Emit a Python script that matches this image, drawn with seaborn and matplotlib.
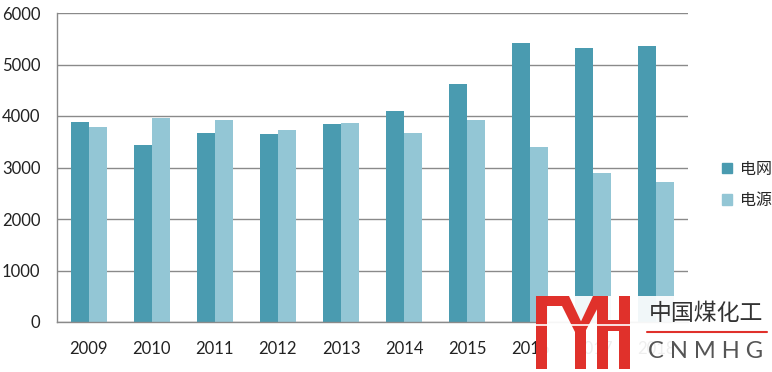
import matplotlib
matplotlib.use("Agg")
import matplotlib.pyplot as plt
import seaborn as sns
import pandas as pd
from matplotlib.patches import Polygon, Rectangle
from matplotlib.lines import Line2D

years = ["2009", "2010", "2011", "2012", "2013", "2014", "2015", "2016", "2017", "2018"]
grid_vals = [3880, 3430, 3670, 3650, 3845, 4100, 4620, 5420, 5320, 5360]
source_vals = [3790, 3960, 3920, 3730, 3865, 3670, 3920, 3400, 2890, 2720]
series = ["电网", "电源"]
colors = ["#4A9BB0", "#93C6D5"]

df = pd.DataFrame({
    "year": years * 2,
    "value": grid_vals + source_vals,
    "series": [series[0]] * len(years) + [series[1]] * len(years),
})

sns.set_style("white")
plt.rcParams["font.family"] = ["Lato", "Noto Sans CJK SC", "DejaVu Sans"]

W, H = 772, 372
fig = plt.figure(figsize=(W / 100, H / 100), dpi=100)
ax = fig.add_axes([57 / W, 1 - 322 / H, (688 - 57) / W, (322 - 13) / H])

sns.barplot(data=df, x="year", y="value", hue="series", palette=colors,
            width=0.57, gap=0, ax=ax, legend=False, saturation=1, linewidth=0)

ax.set_ylim(0, 6000)
ax.set_xlim(-0.5, len(years) - 0.5)
ax.set_yticks(range(0, 6001, 1000))
ax.set_xlabel("")
ax.set_ylabel("")
ax.yaxis.grid(True, color="#8A8A8A", linewidth=1)
ax.set_axisbelow(True)
for s in ["top", "right"]:
    ax.spines[s].set_visible(False)
for s in ["left", "bottom"]:
    ax.spines[s].set_color("#8A8A8A")
    ax.spines[s].set_linewidth(1)
ax.tick_params(axis="y", length=5, color="#8A8A8A", labelsize=12, pad=7)
ax.tick_params(axis="x", which="major", length=0, labelsize=12, pad=14)
ax.set_xticks([i - 0.5 for i in range(len(years) + 1)], minor=True)
ax.tick_params(axis="x", which="minor", length=5, color="#8A8A8A", direction="out")
for lab in ax.get_xticklabels() + ax.get_yticklabels():
    lab.set_color("#222222")

handles = [Rectangle((0, 0), 1, 1, color=c) for c in colors]
fig.legend(handles, series, loc="center left", bbox_to_anchor=(708 / W, 1 - 185 / H),
           frameon=False, handlelength=0.6, handleheight=0.6,
           handletextpad=0.5, labelspacing=0.9,
           prop={"family": ["Noto Sans CJK SC", "DejaVu Sans"], "size": 11.5})

# watermark (decoration)
def px(x, y):
    return (x / W, 1 - y / H)

fig.patches.append(Rectangle(px(536, 372), (772 - 536) / W, (372 - 296) / H,
                             transform=fig.transFigure, facecolor="white", alpha=0.93,
                             edgecolor="none", zorder=9))
red = "#E0312B"
shapes = [
    [(536, 296), (547, 296), (547, 369), (536, 369)],
    [(536, 296), (568, 296), (568, 306), (536, 306)],
    [(557, 296), (569, 296), (586, 332), (575, 332)],
    [(593, 296), (604, 296), (585, 332), (576, 332)],
    [(575, 328), (586, 328), (586, 369), (575, 369)],
    [(597, 296), (608, 296), (608, 369), (597, 369)],
    [(608, 320), (619, 320), (619, 331), (608, 331)],
    [(619, 296), (630, 296), (630, 369), (619, 369)],
]
for sh in shapes:
    fig.patches.append(Polygon([px(*p) for p in sh], closed=True, transform=fig.transFigure,
                               facecolor=red, edgecolor="none", zorder=10))
fig.lines.append(Line2D([px(534, 0)[0], px(632, 0)[0]], [px(0, 325)[1]] * 2,
                        transform=fig.transFigure, color="white", linewidth=1.2, zorder=11))
fig.text(706 / W, 1 - 313 / H, "中国煤化工", ha="center", va="center", fontsize=16.5,
         color="#333333", family=["Noto Sans CJK SC", "DejaVu Sans"], zorder=12)
fig.lines.append(Line2D([647 / W, 767 / W], [1 - 332 / H] * 2, transform=fig.transFigure,
                        color=red, linewidth=1.5, zorder=12))
fig.text(706 / W, 1 - 352 / H, "C N M H G", ha="center", va="center", fontsize=17,
         color="#555555", family=["Lato", "DejaVu Sans"], zorder=12)

fig.savefig("out.png", dpi=100)
